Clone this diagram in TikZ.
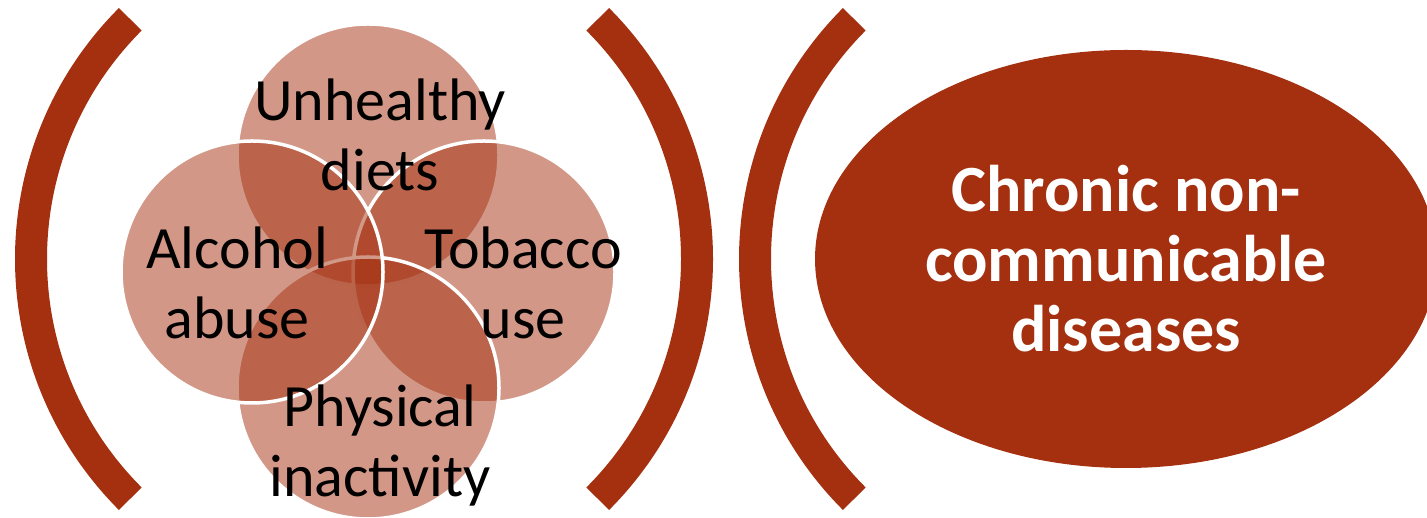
\documentclass[tikz,border=0pt]{standalone}
\usepackage{fontspec}
\setmainfont{Carlito}
\usetikzlibrary{shapes.geometric}
\definecolor{rust}{RGB}{165,48,16}
\begin{document}
\begin{tikzpicture}[x=0.5pt,y=0.5pt,
  bracket/.style={draw=rust,line width=16pt},
  risk/.style={fill=rust,fill opacity=0.5,draw=white,draw opacity=1,line width=1.75pt},
  risklabel/.style={align=center,anchor=base,inner sep=0pt,text=black,
    font=\fontsize{30}{35}\selectfont},
  outcome/.style={ellipse,fill=rust,draw=none,minimum width=311pt,minimum height=209pt,
    inner sep=0pt,align=center,text=white,font=\fontsize{33}{35}\selectfont\bfseries}]
\useasboundingbox (0,0) rectangle (1427,518);
\clip (0,0) rectangle (1427,518);

% brackets around the risk factors and the outcome
\draw[bracket] (370,259) ++(135:339) arc[start angle=135,end angle=225,radius=339];
\draw[bracket] (358,259) ++(-45:339) arc[start angle=-45,end angle=45,radius=339];
\draw[bracket] (1094,259) ++(135:339) arc[start angle=135,end angle=225,radius=339];

% four overlapping risk-factor circles
\path[risk] (368,363) circle[radius=131];
\path[risk] (484,246) circle[radius=131];
\path[risk] (368,130) circle[radius=131];
\path[risk] (252,246) circle[radius=131];

% labels, placed by the baseline of their last line
\node[risklabel] (diet) at (380,327) {Unhealthy\\diets};
\node[risklabel] (alcohol) at (237,179) {Alcohol\\abuse};
\node[risklabel] (tobacco) at (523,179) {Tobacco\\use};
\node[risklabel] (activity) at (380,21) {Physical\\inactivity};

% outcome
\node[outcome] (ncd) at (1126,259) {Chronic non-\\communicable\\diseases};
\end{tikzpicture}
\end{document}
